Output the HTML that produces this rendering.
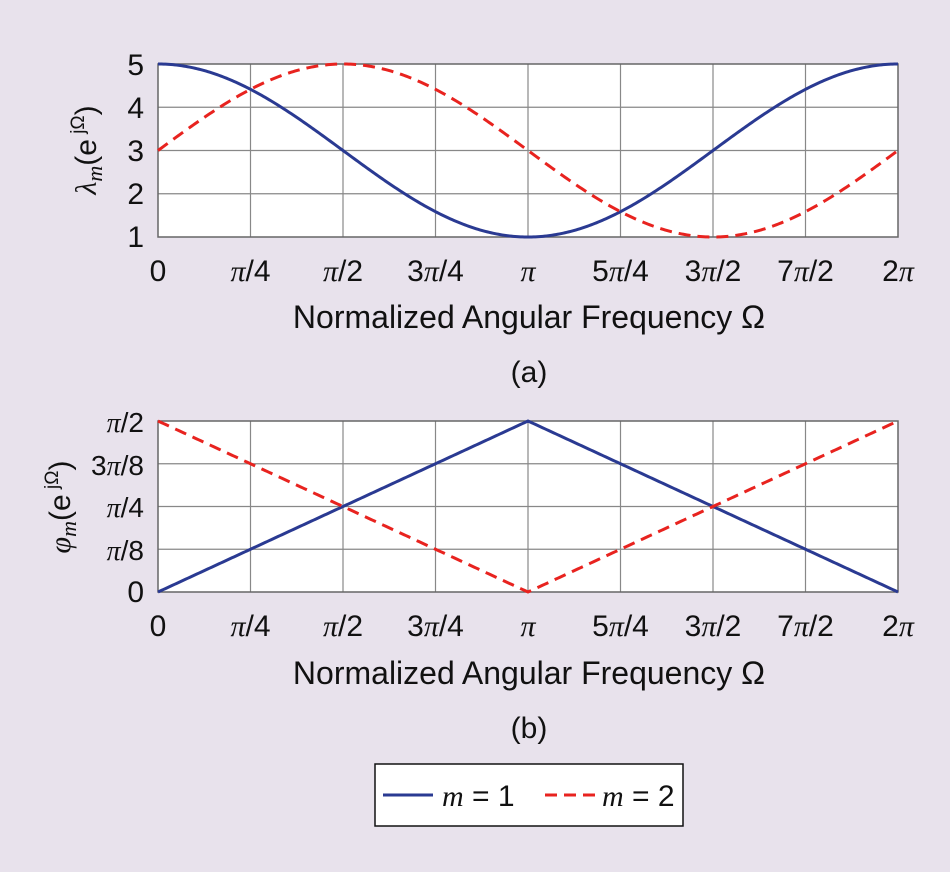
<!DOCTYPE html>
<html><head><meta charset="utf-8"><style>
html,body{margin:0;padding:0;background:#e8e2ec;}
svg{display:block;}
text{font-family:"Liberation Sans",sans-serif;fill:#111;}
.it{font-family:"Liberation Serif",serif;font-style:italic;}
</style></head><body>
<svg id="s" width="950" height="872" viewBox="0 0 950 872" xmlns="http://www.w3.org/2000/svg">
<rect width="950" height="872" fill="#e8e2ec"/>
<g id="g"></g>
<g font-size="30" text-anchor="end">
<text x="144" y="75">5</text><text x="144" y="118">4</text><text x="144" y="161">3</text><text x="144" y="204">2</text><text x="144" y="247">1</text>
<text x="144" y="602">0</text>
</g>
<g font-size="28" text-anchor="end">
<text x="144" y="560"><tspan class="it">π</tspan>/8</text>
<text x="144" y="517"><tspan class="it">π</tspan>/4</text>
<text x="144" y="475">3<tspan class="it">π</tspan>/8</text>
<text x="144" y="432"><tspan class="it">π</tspan>/2</text>
</g>
<text transform="translate(96,150) rotate(-90)" font-size="30" text-anchor="middle"><tspan class="it">λ</tspan><tspan class="it" font-size="22" dy="6">m</tspan><tspan dy="-6">(e</tspan><tspan font-size="19" dy="-12"> jΩ</tspan><tspan dy="12">)</tspan></text>
<text transform="translate(70,507) rotate(-90)" font-size="30" text-anchor="middle"><tspan class="it">φ</tspan><tspan class="it" font-size="22" dy="6">m</tspan><tspan dy="-6">(e</tspan><tspan font-size="19" dy="-12"> jΩ</tspan><tspan dy="12">)</tspan></text>
<g id="xl" font-size="30" text-anchor="middle"></g>
<text x="529" y="328" font-size="32" text-anchor="middle">Normalized Angular Frequency Ω</text>
<text x="529" y="382" font-size="30" text-anchor="middle">(a)</text>
<text x="529" y="684" font-size="32" text-anchor="middle">Normalized Angular Frequency Ω</text>
<text x="529" y="738" font-size="30" text-anchor="middle">(b)</text>
<rect x="375" y="764" width="308" height="62" fill="#fff" stroke="#111" stroke-width="1.5"/>
<line x1="383" y1="795" x2="433" y2="795" stroke="#2a3a92" stroke-width="3"/>
<text x="442" y="806" font-size="30"><tspan class="it">m</tspan> = 1</text>
<line x1="545" y1="795" x2="595" y2="795" stroke="#e8231f" stroke-width="3" stroke-dasharray="12,7"/>
<text x="602" y="806" font-size="30"><tspan class="it">m</tspan> = 2</text>
</svg>
<script>
var g=document.getElementById('g'),NS='http://www.w3.org/2000/svg';
function el(t,a){var e=document.createElementNS(NS,t);for(var k in a)e.setAttribute(k,a[k]);g.appendChild(e);return e;}
var L=158,R=898;
function X(w){return L+(R-L)*w/(2*Math.PI);}
function plot(T,B){
 el('rect',{x:L,y:T,width:R-L,height:B-T,fill:'#fff'});
 for(var i=1;i<8;i++){var x=L+(R-L)*i/8;el('line',{x1:x,y1:T,x2:x,y2:B,stroke:'#888','stroke-width':1.2});}
 for(var j=1;j<4;j++){var y=T+(B-T)*j/4;el('line',{x1:L,y1:y,x2:R,y2:y,stroke:'#888','stroke-width':1.2});}
 el('rect',{x:L,y:T,width:R-L,height:B-T,fill:'none',stroke:'#666','stroke-width':1.5});
}
var T1=64,B1=237,T2=421,B2=592;
plot(T1,B1);plot(T2,B2);
function path(f,T,B,lo,hi,st){var d='';for(var i=0;i<=400;i++){var w=2*Math.PI*i/400;var v=f(w);var y=B-(B-T)*(v-lo)/(hi-lo);d+=(i?'L':'M')+X(w).toFixed(2)+','+y.toFixed(2);}
 var a={d:d,fill:'none',stroke:st.c,'stroke-width':3};if(st.d)a['stroke-dasharray']=st.d;el('path',a);}
var blue={c:'#2a3a92'},red={c:'#e8231f',d:'12,7'};
path(function(w){return 3+2*Math.cos(w);},T1,B1,1,5,blue);
path(function(w){return 3+2*Math.sin(w);},T1,B1,1,5,red);
path(function(w){return w<=Math.PI?w/2:(2*Math.PI-w)/2;},T2,B2,0,Math.PI/2,blue);
path(function(w){return w<=Math.PI?(Math.PI-w)/2:(w-Math.PI)/2;},T2,B2,0,Math.PI/2,red);
var labs=['0','<tspan class="it">π</tspan>/4','<tspan class="it">π</tspan>/2','3<tspan class="it">π</tspan>/4','<tspan class="it">π</tspan>','5<tspan class="it">π</tspan>/4','3<tspan class="it">π</tspan>/2','7<tspan class="it">π</tspan>/2','2<tspan class="it">π</tspan>'];
var xl=document.getElementById('xl'),h='';
for(var i=0;i<9;i++){var x=L+(R-L)*i/8;h+='<text x="'+x+'" y="281">'+labs[i]+'</text><text x="'+x+'" y="636">'+labs[i]+'</text>';}
xl.innerHTML=h;
</script>
</body></html>
